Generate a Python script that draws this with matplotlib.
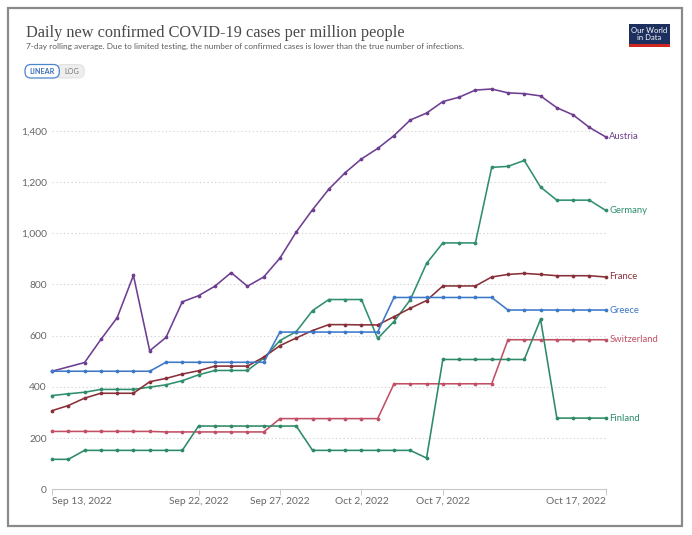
import numpy as np
import pandas as pd
import matplotlib
matplotlib.use("Agg")
import matplotlib.pyplot as plt
from matplotlib.patches import Rectangle, FancyBboxPatch
from matplotlib.ticker import FuncFormatter

nan = np.nan
dates = pd.date_range("2022-09-13", "2022-10-17", freq="D")

austria = [461, nan, 495, 585, 670, 835, 541, 593, 732, 756, 793, 846, 793, 829,
           903, 1005, 1092, 1172, 1236, 1290, 1331, 1381, 1442, 1469, 1514, 1531,
           1559, 1563, 1548, 1545, 1536, 1490, 1462, 1413, 1376]
germany = [366, 373, 379, 390, 390, 390, 399, 408, 424, 447, 464, 464, 464, 512,
           581, 616, 698, 741, 741, 741, 589, 655, 740, 882, 962, 962, 962, 1257,
           1261, 1284, 1180, 1129, 1129, 1129, 1089]
france = [307, 327, 356, 375, 375, 375, 420, 433, 450, 463, 481, 481, 481, 516,
          561, 591, 620, 643, 643, 642, 642, 674, 707, 737, 794, 794, 794, 829,
          839, 843, 839, 834, 834, 834, 829]
greece = [461] * 7 + [496] * 7 + [614] * 7 + [749] * 7 + [700] * 7
switzerland = [226] * 7 + [224] * 7 + [276] * 7 + [412] * 7 + [584] * 7
finland = [117, 117] + [152] * 7 + [247] * 7 + [152] * 7 + [122] + [507] * 6 + [664] + [278] * 4

series_names = ["Austria", "Germany", "France", "Greece", "Switzerland", "Finland"]
series_values = [austria, germany, france, greece, switzerland, finland]
series_colors = ["#6d3e91", "#2f8f6c", "#883039", "#3d78c9", "#c15065", "#2c8a66"]

yticks = [0, 200, 400, 600, 800, 1000, 1200, 1400]
xtick_labels = ["Sep 13, 2022", "Sep 22, 2022", "Sep 27, 2022", "Oct 2, 2022",
                "Oct 7, 2022", "Oct 17, 2022"]
xtick_dates = pd.to_datetime(xtick_labels, format="%b %d, %Y")

title = "Daily new confirmed COVID-19 cases per million people"
subtitle = ("7-day rolling average. Due to limited testing, the number of confirmed "
            "cases is lower than the true number of infections.")

W, H = 692, 535
fig = plt.figure(figsize=(W / 100, H / 100), dpi=100)
sans = ["Lato", "DejaVu Sans"]

# background overlay in pixel coordinates
bg = fig.add_axes([0, 0, 1, 1], zorder=0)
bg.set_xlim(0, W)
bg.set_ylim(H, 0)
bg.axis("off")
bg.add_patch(Rectangle((8, 8), 674, 518, fill=False, edgecolor="#8a8a8a", lw=1.6))

bg.text(25.5, 36.7, title, fontsize=11.7, family=["Liberation Serif", "DejaVu Serif"],
        color="#4a4a4a", va="baseline", ha="left")
bg.text(25.5, 49.3, subtitle, fontsize=5.95, family=sans, color="#5b5b5b",
        va="baseline", ha="left")

# logo
bg.add_patch(Rectangle((629, 24), 41, 20, facecolor="#1d2f5e", edgecolor="none"))
bg.add_patch(Rectangle((629, 44), 41, 2.6, facecolor="#ce261e", edgecolor="none"))
bg.text(649.5, 34, "Our World\nin Data", fontsize=5.5, family=sans, color="white",
        ha="center", va="center", linespacing=1.0)

# LINEAR / LOG buttons
bg.add_patch(FancyBboxPatch((56, 64.5), 28.3, 13.5, boxstyle="round,pad=0,rounding_size=6",
                            facecolor="#eeeeee", edgecolor="#dddddd", lw=0.6))
bg.add_patch(FancyBboxPatch((25, 64.5), 34.3, 13.5, boxstyle="round,pad=0,rounding_size=6",
                            facecolor="white", edgecolor="#4a85d0", lw=0.9))
bg.text(42.2, 71.4, "LINEAR", fontsize=5.2, family=sans, color="#3b6fb8",
        ha="center", va="center", fontweight="bold")
bg.text(72, 71.4, "LOG", fontsize=5.2, family=sans, color="#777777",
        ha="center", va="center")

# main chart
y0_px = 489.3
px_per_unit = 0.2561
ytop = 1600
left = 52 / W
right = 605.7 / W
bottom = (H - y0_px) / H
top_px = y0_px - ytop * px_per_unit
ax = fig.add_axes([left, bottom, right - left, (y0_px - top_px) / H], zorder=1)
ax.set_facecolor("none")
ax.set_xlim(dates[0], dates[-1])
ax.set_ylim(0, ytop)

for name, vals, col in zip(series_names, series_values, series_colors):
    s = pd.Series(vals, index=dates, dtype=float).dropna()
    ax.plot(s.index, s.values, color=col, lw=1.15, marker="o", ms=1.7,
            clip_on=False, zorder=3)
    ax.annotate(name, xy=(s.index[-1], s.values[-1]), xytext=(2.6, 0),
                textcoords="offset points", fontsize=6.8, family=sans,
                color=col, va="center", ha="left", annotation_clip=False)

for sp in ["top", "right", "left"]:
    ax.spines[sp].set_visible(False)
ax.spines["bottom"].set_color("#c8c8c8")
ax.spines["bottom"].set_linewidth(0.8)

ax.set_yticks(yticks)
ax.yaxis.set_major_formatter(FuncFormatter(lambda v, p: f"{int(v):,}"))
ax.tick_params(axis="y", length=0, pad=3.6, labelsize=7.4, labelcolor="#666666")
for v in yticks[1:]:
    ax.axhline(v, color="#d6d6d6", lw=0.8, ls=(0, (1.2, 2.2)), zorder=1)

ax.set_xticks(xtick_dates)
ax.set_xticklabels(xtick_labels)
ax.tick_params(axis="x", length=4, width=0.7, color="#c8c8c8", pad=1.5,
               labelsize=7.4, labelcolor="#666666")
xl = ax.get_xticklabels()
xl[0].set_ha("left")
xl[-1].set_ha("right")
for t in ax.get_xticklabels() + ax.get_yticklabels():
    t.set_family(sans)

fig.savefig("out.png", dpi=100)
